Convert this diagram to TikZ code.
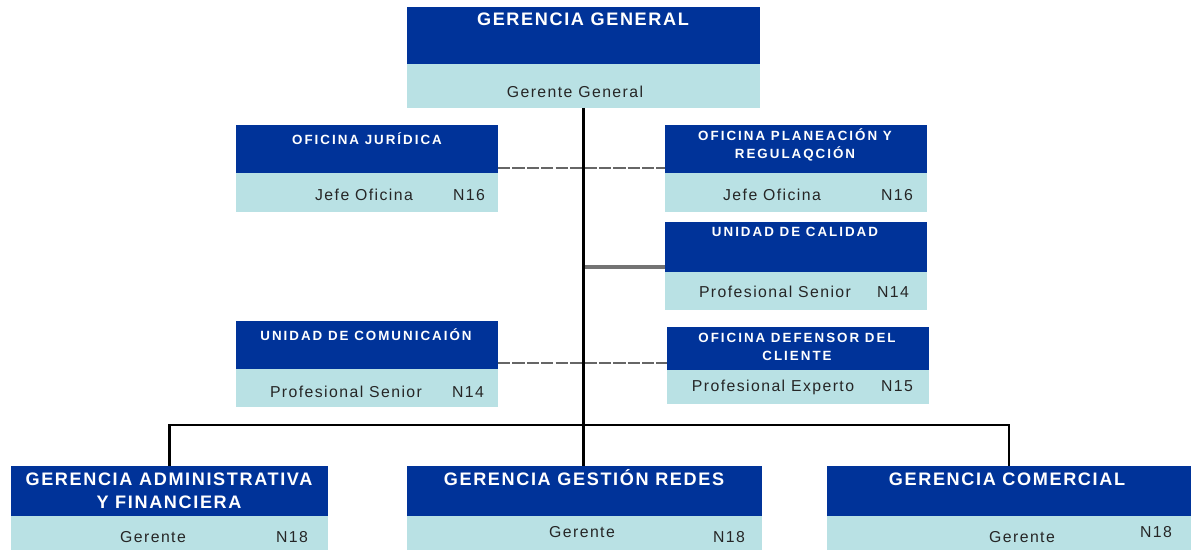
\documentclass[tikz,border=0pt]{standalone}
\usepackage{fontspec}
\setmainfont{Liberation Sans}
\newfontfamily\titlefont[LetterSpace=9]{Liberation Sans}
\newfontfamily\smalltitlefont[LetterSpace=15]{Liberation Sans}
\newfontfamily\rolefont[LetterSpace=9]{Liberation Sans}
\usetikzlibrary{calc,positioning}
\definecolor{gdark}{RGB}{0,51,153}
\definecolor{glight}{RGB}{185,225,228}
\tikzstyle{unithead}=[rectangle,fill=gdark,inner sep=0pt,outer sep=0pt,anchor=north west]
\tikzstyle{unitbody}=[rectangle,fill=glight,inner sep=0pt,outer sep=0pt,anchor=north west]
\tikzstyle{bigtitle}=[text=white,inner sep=0pt,anchor=base,align=center,
                      font=\titlefont\bfseries\fontsize{10.3}{13.2}\selectfont]
\tikzstyle{smalltitle}=[text=white,inner sep=0pt,anchor=base,align=center,
                        font=\smalltitlefont\bfseries\fontsize{7.6}{10.3}\selectfont]
\tikzstyle{role}=[text=black!85,inner sep=0pt,anchor=base,
                  font=\rolefont\fontsize{9}{11}\selectfont]
\tikzstyle{line}=[black,line width=1.6pt]
\tikzstyle{dashline}=[black!60,line width=1.1pt,dash pattern=on 7pt off 1.2pt]
\tikzstyle{grayline}=[black!55,line width=1.8pt]

\begin{document}
\begin{tikzpicture}[x=0.02cm,y=-0.02cm]
  \useasboundingbox (0,0) rectangle (1191,550);

  % gerencia general
  \node[unithead,minimum width=7.06cm,minimum height=1.14cm] (gg) at (407,7) {};
  \node[unitbody,minimum width=7.06cm,minimum height=0.88cm] (ggb) at (407,64) {};
  \node[bigtitle] (ggt) at (583,26) {GERENCIA GENERAL};
  \node[role] (ggr) at (575,98) {Gerente General};

  % oficinas de apoyo, izquierda
  \node[unithead,minimum width=5.24cm,minimum height=0.96cm] (oj) at (236,125) {};
  \node[unitbody,minimum width=5.24cm,minimum height=0.78cm] (ojb) at (236,173) {};
  \node[smalltitle] (ojt) at (367,145) {OFICINA JURÍDICA};
  \node[role] (ojr) at (364,201) {Jefe Oficina};
  \node[role] (ojn) at (469,201) {N16};

  \node[unithead,minimum width=5.24cm,minimum height=0.96cm] (ucom) at (236,321) {};
  \node[unitbody,minimum width=5.24cm,minimum height=0.76cm] (ucomb) at (236,369) {};
  \node[smalltitle] (ucomt) at (366,341) {UNIDAD DE COMUNICAIÓN};
  \node[role] (ucomr) at (346,398) {Profesional Senior};
  \node[role] (ucomn) at (468,398) {N14};

  % oficinas de apoyo, derecha
  \node[unithead,minimum width=5.24cm,minimum height=0.96cm] (op) at (665,125) {};
  \node[unitbody,minimum width=5.24cm,minimum height=0.78cm] (opb) at (665,173) {};
  \node[smalltitle] (opt) at (795,159) {OFICINA PLANEACIÓN Y\\REGULAQCIÓN};
  \node[role] (opr) at (772,201) {Jefe Oficina};
  \node[role] (opn) at (897,201) {N16};

  \node[unithead,minimum width=5.24cm,minimum height=1.0cm] (uc) at (665,222) {};
  \node[unitbody,minimum width=5.24cm,minimum height=0.76cm] (ucb) at (665,272) {};
  \node[smalltitle] (uct) at (795,237) {UNIDAD DE CALIDAD};
  \node[role] (ucr) at (775,298) {Profesional Senior};
  \node[role] (ucn) at (893,298) {N14};

  \node[unithead,minimum width=5.24cm,minimum height=0.86cm] (od) at (667,327) {};
  \node[unitbody,minimum width=5.24cm,minimum height=0.68cm] (odb) at (667,370) {};
  \node[smalltitle] (odt) at (797,361) {OFICINA DEFENSOR DEL\\CLIENTE};
  \node[role] (odr) at (773,392) {Profesional Experto};
  \node[role] (odn) at (897,392) {N15};

  % gerencias
  \node[unithead,minimum width=6.34cm,minimum height=1.0cm] (ga) at (11,466) {};
  \node[unitbody,minimum width=6.34cm,minimum height=0.68cm] (gab) at (11,516) {};
  \node[bigtitle] (gat) at (169,509) {GERENCIA ADMINISTRATIVA\\Y FINANCIERA};
  \node[role] (gar) at (153,543) {Gerente};
  \node[role] (gan) at (292,543) {N18};

  \node[unithead,minimum width=7.1cm,minimum height=1.0cm] (gr) at (407,466) {};
  \node[unitbody,minimum width=7.1cm,minimum height=0.68cm] (grb) at (407,516) {};
  \node[bigtitle] (grt) at (584,486) {GERENCIA GESTIÓN REDES};
  \node[role] (grr) at (582,538) {Gerente};
  \node[role] (grn) at (729,543) {N18};

  \node[unithead,minimum width=7.28cm,minimum height=1.0cm] (gc) at (827,466) {};
  \node[unitbody,minimum width=7.28cm,minimum height=0.68cm] (gcb) at (827,516) {};
  \node[bigtitle] (gct) at (1007,486) {GERENCIA COMERCIAL};
  \node[role] (gcr) at (1022,543) {Gerente};
  \node[role] (gcn) at (1156,538) {N18};

  % conectores
  \coordinate (split) at ($(ggb.south)+(0,317)$);
  \coordinate (ojjoin) at ($(oj.south east)+(0,-5)$);
  \coordinate (ucjoin) at ($(uc.south west)+(0,-5)$);
  \coordinate (ucomjoin) at ($(ucom.south east)+(0,-6)$);

  \draw[dashline] (ojjoin) -- (ojjoin -| op.west);
  \draw[dashline] (ucomjoin) -- (ucomjoin -| od.west);
  \draw[grayline] (ucjoin) -- (ucjoin -| ggb.south);
  \draw[line] (ggb.south) -- (ggb.south |- gr.north);
  \draw[line] (ga.north) -- (ga.north |- split) -- (gc.north |- split) -- (gc.north);
\end{tikzpicture}
\end{document}
